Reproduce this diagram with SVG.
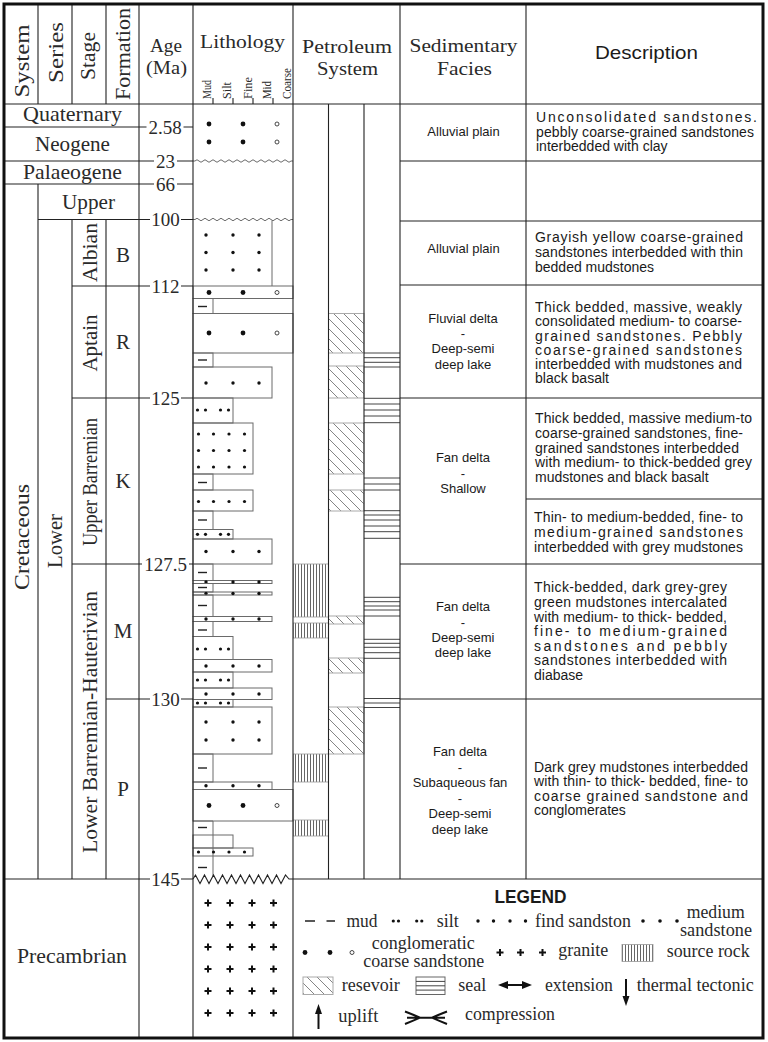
<svg xmlns="http://www.w3.org/2000/svg" width="768" height="1042" viewBox="0 0 768 1042">
<defs>
<style>
.ln{stroke:#222;stroke-width:1.1;fill:none}
.lb{stroke:#6a6a6a;stroke-width:1;fill:none}
.sf{font-family:"Liberation Serif","Times New Roman",serif;fill:#2a2a2a}
.ss{font-family:"Liberation Sans",Arial,sans-serif;fill:#1a1a1a}
.h{font-size:21px}
.h2{font-size:19px}
.sm{font-size:12px}
.age{font-size:19px;text-anchor:middle}
.fac{font-size:13px;text-anchor:middle}
.desc{font-size:14px}
.lg{font-size:18px}
.dot{fill:#111}
.oc{fill:#fff;stroke:#333;stroke-width:0.9}
.md{stroke:#222;stroke-width:1.4}
.gc{stroke:#111;stroke-width:2}
.src{fill:url(#pSrc);stroke:#999;stroke-width:0.8}
.res{fill:url(#pRes);stroke:#aaa;stroke-width:1}
.seal{stroke:#444;stroke-width:1;fill:none}
.ar{fill:#111;stroke:none}
</style>
<pattern id="pSrc" patternUnits="userSpaceOnUse" width="3" height="10"><line x1="1.5" y1="0" x2="1.5" y2="10" stroke="#666" stroke-width="1"/></pattern>
<pattern id="pRes" patternUnits="userSpaceOnUse" width="10" height="10"><path d="M0,0 L10,10 M-2,8 L2,12 M8,-2 L12,2" stroke="#777" stroke-width="0.9"/></pattern>
<g id="dMed" class="dot"><circle cx="206" cy="0" r="1.7"/><circle cx="233" cy="0" r="1.7"/><circle cx="259" cy="0" r="1.7"/></g>
<g id="dFine" class="dot"><circle cx="198.5" cy="0" r="1.6"/><circle cx="213.5" cy="0" r="1.6"/><circle cx="229" cy="0" r="1.6"/><circle cx="244.5" cy="0" r="1.6"/></g>
<g id="dSilt" class="dot"><circle cx="197.5" cy="0" r="1.6"/><circle cx="205.5" cy="0" r="1.6"/><circle cx="220.5" cy="0" r="1.6"/><circle cx="228.5" cy="0" r="1.6"/></g>
<g id="dCoarse"><circle class="dot" cx="209" cy="0" r="2.4"/><circle class="dot" cx="243" cy="0" r="2.4"/><circle class="oc" cx="277" cy="0" r="2"/></g>
<path id="dash" class="md" d="M198,0 H207"/>
<path id="cross" class="gc" d="M-3.5,0 H3.5 M0,-3.5 V3.5"/>
</defs>
<rect x="0" y="0" width="768" height="1042" fill="#fff"/>

<g id="petroleum-system">
  <g id="source-rock">
    <rect class="src" x="293.5" y="564" width="35" height="53"/>
    <rect class="src" x="293.5" y="623" width="35" height="15"/>
    <rect class="src" x="293.5" y="754" width="35" height="28"/>
    <rect class="src" x="293.5" y="820" width="35" height="16"/>
  </g>
  <g id="reservoir">
    <rect class="res" x="328.5" y="313.5" width="35.5" height="39.5"/>
    <rect class="res" x="328.5" y="366" width="35.5" height="32"/>
    <rect class="res" x="328.5" y="423" width="35.5" height="51"/>
    <rect class="res" x="328.5" y="490" width="35.5" height="21"/>
    <rect class="res" x="328.5" y="616" width="35.5" height="8"/>
    <rect class="res" x="328.5" y="658" width="35.5" height="15"/>
    <rect class="res" x="328.5" y="707" width="35.5" height="47"/>
  </g>
  <g id="seal">
    <path class="seal" d="M364,353H400M364,357.7H400M364,362.3H400M364,367H400"/>
    <path class="seal" d="M364,398.3H400M364,404H400M364,410H400M364,416H400M364,422.7H400"/>
    <path class="seal" d="M364,478H400M364,484H400M364,490H400"/>
    <path class="seal" d="M364,510.7H400M364,515H400M364,520H400M364,526H400M364,531.7H400M364,538.3H400"/>
    <path class="seal" d="M364,597.3H400M364,601.7H400M364,606H400M364,610H400M364,616H400"/>
    <path class="seal" d="M364,639.3H400M364,643.3H400M364,647.3H400M364,652.7H400M364,658.3H400"/>
    <path class="seal" d="M364,698.5H400M364,703H400M364,707.5H400"/>
  </g>
</g>

<g id="lithology">
  <use href="#dCoarse" y="124"/><use href="#dCoarse" y="142"/>
  <path class="lb" d="M193,161 H195 q2,-2.5 4,0 t4,0 t4,0 t4,0 t4,0 t4,0 t4,0 t4,0 t4,0 t4,0 t4,0 t4,0 t4,0 t4,0 t4,0 t4,0 t4,0 t4,0 t4,0 t4,0 t4,0 t4,0 t4,0 t4,0 H293" stroke="#444"/>
  <path class="lb" d="M193,219.5 H195 q2,-2.5 4,0 t4,0 t4,0 t4,0 t4,0 t4,0 t4,0 t4,0 t4,0 t4,0 t4,0 t4,0 t4,0 t4,0 t4,0 t4,0 t4,0 t4,0 t4,0 t4,0 t4,0 t4,0 t4,0 t4,0 H293" stroke="#444"/>
  <path class="lb" d="M272,220.5 V286"/>
  <use href="#dMed" y="235"/><use href="#dMed" y="252.5"/><use href="#dMed" y="270"/>
  <rect class="lb" x="193" y="286" width="100" height="12.5"/><use href="#dCoarse" y="292.5"/>
  <rect class="lb" x="193" y="298.5" width="20" height="15"/><use href="#dash" y="306.5"/>
  <rect class="lb" x="193" y="313.5" width="100" height="39.5"/><use href="#dCoarse" y="333"/>
  <rect class="lb" x="193" y="353" width="20" height="14"/><use href="#dash" y="360"/>
  <rect class="lb" x="193" y="367" width="79" height="31"/><use href="#dMed" y="383"/>
  <rect class="lb" x="193" y="398" width="40" height="25"/><use href="#dSilt" y="410"/>
  <rect class="lb" x="193" y="423" width="60" height="51"/><use href="#dFine" y="434"/><use href="#dFine" y="450.5"/><use href="#dFine" y="467"/>
  <rect class="lb" x="193" y="474" width="20" height="16"/><use href="#dash" y="482.5"/>
  <rect class="lb" x="193" y="490" width="60" height="21"/><use href="#dFine" y="501.5"/>
  <rect class="lb" x="193" y="511" width="20" height="18.5"/><use href="#dash" y="520"/>
  <rect class="lb" x="193" y="529.5" width="40" height="9.5"/><use href="#dSilt" y="534.3"/>
  <rect class="lb" x="193" y="539" width="79" height="25"/><use href="#dMed" y="551.5"/>
  <rect class="lb" x="193" y="564" width="20" height="16.5"/><use href="#dash" y="572.5"/>
  <rect class="lb" x="193" y="580.5" width="79" height="3"/><use href="#dMed" y="582"/>
  <rect class="lb" x="193" y="583.5" width="20" height="8.5"/><use href="#dash" y="587.5"/>
  <rect class="lb" x="193" y="592" width="79" height="3"/><use href="#dMed" y="593.5"/>
  <rect class="lb" x="193" y="595" width="20" height="21.5"/><use href="#dash" y="605.5"/>
  <rect class="lb" x="193" y="616.5" width="79" height="5"/><use href="#dMed" y="619"/>
  <rect class="lb" x="193" y="621.5" width="20" height="15"/><use href="#dash" y="630"/>
  <rect class="lb" x="193" y="636.5" width="40" height="23"/><use href="#dSilt" y="649"/>
  <rect class="lb" x="193" y="659.5" width="79" height="12.5"/><use href="#dMed" y="666"/>
  <rect class="lb" x="193" y="672" width="40" height="16"/><use href="#dSilt" y="680"/>
  <rect class="lb" x="193" y="688" width="79" height="11.5"/><use href="#dMed" y="694"/>
  <rect class="lb" x="193" y="699.5" width="40" height="7.5"/><use href="#dSilt" y="703"/>
  <rect class="lb" x="193" y="707" width="79" height="47"/><use href="#dMed" y="722"/><use href="#dMed" y="740"/>
  <rect class="lb" x="193" y="754" width="20" height="28"/><use href="#dash" y="768"/>
  <rect class="lb" x="193" y="782" width="79" height="7.5"/><use href="#dMed" y="785.7"/>
  <rect class="lb" x="193" y="789.5" width="100" height="31.5"/><use href="#dCoarse" y="805.5"/>
  <path class="lb" d="M213,821 V876"/>
  <path class="lb" d="M193,821 H213"/><use href="#dash" y="827.5"/>
  <rect class="lb" x="193" y="835" width="40" height="13"/>
  <rect class="lb" x="193" y="848" width="60" height="8"/><use href="#dFine" y="852"/>
  <use href="#dash" y="867.5"/>
  <g id="granite">
    <use href="#cross" x="208" y="903"/><use href="#cross" x="230" y="903"/><use href="#cross" x="252" y="903"/><use href="#cross" x="273.5" y="903"/>
    <use href="#cross" x="208" y="925"/><use href="#cross" x="230" y="925"/><use href="#cross" x="252" y="925"/><use href="#cross" x="273.5" y="925"/>
    <use href="#cross" x="208" y="947"/><use href="#cross" x="230" y="947"/><use href="#cross" x="252" y="947"/><use href="#cross" x="273.5" y="947"/>
    <use href="#cross" x="208" y="969"/><use href="#cross" x="230" y="969"/><use href="#cross" x="252" y="969"/><use href="#cross" x="273.5" y="969"/>
    <use href="#cross" x="208" y="991"/><use href="#cross" x="230" y="991"/><use href="#cross" x="252" y="991"/><use href="#cross" x="273.5" y="991"/>
    <use href="#cross" x="208" y="1013"/><use href="#cross" x="230" y="1013"/><use href="#cross" x="252" y="1013"/><use href="#cross" x="273.5" y="1013"/>
  </g>
</g>

<g id="grid">
  <path class="ln" d="M38,4V104M38,184V879M72,4V104M72,219.5V879M106,4V104M106,219.5V879M139,4V1038M193,4V1038M293,4V1038M328.5,104V879M364,104V879M400,4V879M526,4V879"/>
  <path class="ln" d="M4,104H763"/>
  <path class="ln" d="M213,98V104M233,98V104M253,98V104M273,98V104"/>
  <path class="ln" d="M4,127H146.5M183.5,127H193"/>
  <path class="ln" d="M4,161H154M177,161H193M400,161H763"/>
  <path class="ln" d="M4,184H154M177,184H193"/>
  <path class="ln" d="M38,219.5H150M181,219.5H193M400,221H763"/>
  <path class="ln" d="M72,286H150M181,286H193M400,285H763"/>
  <path class="ln" d="M72,398H150M181,398H193M400,398H763"/>
  <path class="ln" d="M526,499H763"/>
  <path class="ln" d="M72,564H142M189,564H193M400,564H763"/>
  <path class="ln" d="M106,699H150M181,699H193M400,699H763"/>
  <path class="ln" d="M4,879H150M181,879H193M293,879H763"/>
  <path class="ln" d="M193,879 L195.5,875 L200,883.5 L204.5,875 L209,883.5 L213.5,875 L218,883.5 L222.5,875 L227,883.5 L231.5,875 L236,883.5 L240.5,875 L245,883.5 L249.5,875 L254,883.5 L258.5,875 L263,883.5 L267.5,875 L272,883.5 L276.5,875 L281,883.5 L285.5,875 L289,879 H293"/>
  <rect x="4" y="4" width="759" height="1034" fill="none" stroke="#111" stroke-width="3"/>
</g>

<g id="header">
  <text class="sf h" text-anchor="middle" transform="translate(29,61) rotate(-90)" textLength="73" lengthAdjust="spacingAndGlyphs">System</text>
  <text class="sf h" text-anchor="middle" transform="translate(63,52.5) rotate(-90)" textLength="61" lengthAdjust="spacingAndGlyphs">Series</text>
  <text class="sf h" text-anchor="middle" transform="translate(95,56) rotate(-90)" textLength="48" lengthAdjust="spacingAndGlyphs">Stage</text>
  <text class="sf h" text-anchor="middle" transform="translate(130,54) rotate(-90)" textLength="92" lengthAdjust="spacingAndGlyphs">Formation</text>
  <text class="sf h2" x="166" y="52" text-anchor="middle" textLength="32" lengthAdjust="spacingAndGlyphs">Age</text>
  <text class="sf h2" x="166.5" y="74" text-anchor="middle" textLength="41" lengthAdjust="spacingAndGlyphs">(Ma)</text>
  <text class="sf h2" x="242.5" y="48" text-anchor="middle" textLength="85" lengthAdjust="spacingAndGlyphs">Lithology</text>
  <text class="sf sm" transform="translate(211,99) rotate(-90)" textLength="19" lengthAdjust="spacingAndGlyphs">Mud</text>
  <text class="sf sm" transform="translate(231,99) rotate(-90)" textLength="17" lengthAdjust="spacingAndGlyphs">Silt</text>
  <text class="sf sm" transform="translate(251.5,99) rotate(-90)" textLength="22" lengthAdjust="spacingAndGlyphs">Fine</text>
  <text class="sf sm" transform="translate(271,99) rotate(-90)" textLength="18" lengthAdjust="spacingAndGlyphs">Mid</text>
  <text class="sf sm" transform="translate(291,99) rotate(-90)" textLength="31" lengthAdjust="spacingAndGlyphs">Coarse</text>
  <text class="sf h2" x="347" y="53" text-anchor="middle" textLength="90" lengthAdjust="spacingAndGlyphs">Petroleum</text>
  <text class="sf h2" x="347.5" y="75" text-anchor="middle" textLength="61" lengthAdjust="spacingAndGlyphs">System</text>
  <text class="sf h2" x="463.5" y="52" text-anchor="middle" textLength="108" lengthAdjust="spacingAndGlyphs">Sedimentary</text>
  <text class="sf h2" x="464.5" y="75" text-anchor="middle" textLength="55" lengthAdjust="spacingAndGlyphs">Facies</text>
  <text class="ss" x="646.5" y="59" font-size="19" text-anchor="middle" textLength="103" lengthAdjust="spacingAndGlyphs">Description</text>
</g>

<g id="units">
  <text class="sf h" x="72.5" y="121" text-anchor="middle" textLength="99" lengthAdjust="spacingAndGlyphs">Quaternary</text>
  <text class="sf h" x="72.5" y="151" text-anchor="middle" textLength="75" lengthAdjust="spacingAndGlyphs">Neogene</text>
  <text class="sf h" x="72.5" y="179" text-anchor="middle" textLength="99" lengthAdjust="spacingAndGlyphs">Palaeogene</text>
  <text class="sf h" x="88.5" y="209" text-anchor="middle" textLength="53" lengthAdjust="spacingAndGlyphs">Upper</text>
  <text class="sf h" text-anchor="middle" transform="translate(29,537) rotate(-90)" textLength="106" lengthAdjust="spacingAndGlyphs">Cretaceous</text>
  <text class="sf h" text-anchor="middle" transform="translate(62,541) rotate(-90)" textLength="54" lengthAdjust="spacingAndGlyphs">Lower</text>
  <text class="sf h" text-anchor="middle" transform="translate(96.5,252.5) rotate(-90)" textLength="59" lengthAdjust="spacingAndGlyphs">Albian</text>
  <text class="sf h" text-anchor="middle" transform="translate(96.5,343) rotate(-90)" textLength="57" lengthAdjust="spacingAndGlyphs">Aptain</text>
  <text class="sf h" text-anchor="middle" transform="translate(96.5,482) rotate(-90)" textLength="128" lengthAdjust="spacingAndGlyphs">Upper Barremian</text>
  <text class="sf h" text-anchor="middle" transform="translate(96.5,722) rotate(-90)" textLength="262" lengthAdjust="spacingAndGlyphs">Lower Barremian-Hauterivian</text>
  <text class="sf h" x="123" y="262" text-anchor="middle">B</text>
  <text class="sf h" x="123" y="349" text-anchor="middle">R</text>
  <text class="sf h" x="123" y="488" text-anchor="middle">K</text>
  <text class="sf h" x="123" y="638" text-anchor="middle">M</text>
  <text class="sf h" x="123" y="796" text-anchor="middle">P</text>
  <text class="sf h" x="72" y="963" text-anchor="middle" textLength="110" lengthAdjust="spacingAndGlyphs">Precambrian</text>
</g>

<g id="ages" class="sf">
  <text class="age" x="165" y="133.5">2.58</text>
  <text class="age" x="165.5" y="167.5">23</text>
  <text class="age" x="165.5" y="190.5">66</text>
  <text class="age" x="165.5" y="226">100</text>
  <text class="age" x="165.5" y="292.5">112</text>
  <text class="age" x="165.5" y="404.5">125</text>
  <text class="age" x="165.5" y="570.5">127.5</text>
  <text class="age" x="165.5" y="705.5">130</text>
  <text class="age" x="165.5" y="885.5">145</text>
</g>

<g id="facies" class="ss fac">
  <text x="463.5" y="135.5">Alluvial plain</text>
  <text x="463.5" y="252.5">Alluvial plain</text>
  <text x="463" y="323">Fluvial delta</text>
  <text x="463" y="338">-</text>
  <text x="463" y="353">Deep-semi</text>
  <text x="463" y="368.5">deep lake</text>
  <text x="463" y="462">Fan delta</text>
  <text x="463" y="477.5">-</text>
  <text x="463" y="492.5">Shallow</text>
  <text x="463" y="610.5">Fan delta</text>
  <text x="463" y="626.5">-</text>
  <text x="463" y="641.5">Deep-semi</text>
  <text x="463" y="657">deep lake</text>
  <text x="460" y="755.5">Fan delta</text>
  <text x="460" y="771.5">-</text>
  <text x="460" y="787">Subaqueous fan</text>
  <text x="460" y="803">-</text>
  <text x="460" y="818">Deep-semi</text>
  <text x="460" y="834">deep lake</text>
</g>

<g id="description" class="ss desc">
  <text x="536" y="121.5" textLength="221" lengthAdjust="spacing">Unconsolidated sandstones.</text>
  <text x="536" y="136.5" textLength="218" lengthAdjust="spacing">pebbly coarse-grained sandstones</text>
  <text x="536" y="151">interbedded with clay</text>
  <text x="535" y="242" textLength="208" lengthAdjust="spacing">Grayish yellow coarse-grained</text>
  <text x="535" y="257" textLength="208" lengthAdjust="spacing">sandstones interbedded with thin</text>
  <text x="535" y="271.5">bedded mudstones</text>
  <text x="535" y="311.5" textLength="207" lengthAdjust="spacing">Thick bedded, massive, weakly</text>
  <text x="535" y="326" textLength="207" lengthAdjust="spacing">consolidated medium- to coarse-</text>
  <text x="535" y="340.5" textLength="207" lengthAdjust="spacing">grained sandstones. Pebbly</text>
  <text x="535" y="355" textLength="207" lengthAdjust="spacing">coarse-grained sandstones</text>
  <text x="535" y="369" textLength="207" lengthAdjust="spacing">interbedded with mudstones and</text>
  <text x="535" y="383">black basalt</text>
  <text x="535" y="423" textLength="217" lengthAdjust="spacing">Thick bedded, massive medium-to</text>
  <text x="535" y="438" textLength="208" lengthAdjust="spacing">coarse-grained sandstones, fine-</text>
  <text x="535" y="452.5" textLength="204" lengthAdjust="spacing">grained sandstones interbedded</text>
  <text x="535" y="467" textLength="217" lengthAdjust="spacing">with medium- to thick-bedded grey</text>
  <text x="535" y="481.5">mudstones and black basalt</text>
  <text x="534" y="522" textLength="209" lengthAdjust="spacing">Thin- to medium-bedded, fine- to</text>
  <text x="534" y="536.5" textLength="209" lengthAdjust="spacing">medium-grained sandstones</text>
  <text x="534" y="551.5" textLength="209" lengthAdjust="spacing">interbedded with grey mudstones</text>
  <text x="534" y="592" textLength="193" lengthAdjust="spacing">Thick-bedded, dark grey-grey</text>
  <text x="534" y="606.5" textLength="193" lengthAdjust="spacing">green mudstones intercalated</text>
  <text x="534" y="621.5" textLength="193" lengthAdjust="spacing">with medium- to thick- bedded,</text>
  <text x="534" y="636" textLength="193" lengthAdjust="spacing">fine- to medium-grained</text>
  <text x="534" y="650.5" textLength="193" lengthAdjust="spacing">sandstones and pebbly</text>
  <text x="534" y="665" textLength="193" lengthAdjust="spacing">sandstones interbedded with</text>
  <text x="534" y="680">diabase</text>
  <text x="534" y="771.5" textLength="214" lengthAdjust="spacing">Dark grey mudstones interbedded</text>
  <text x="534" y="786" textLength="214" lengthAdjust="spacing">with thin- to thick- bedded, fine- to</text>
  <text x="534" y="800.5" textLength="214" lengthAdjust="spacing">coarse grained sandstone and</text>
  <text x="534" y="815">conglomerates</text>
</g>

<g id="legend">
  <text class="ss" x="530.5" y="903" font-size="18" font-weight="bold" text-anchor="middle" textLength="72" lengthAdjust="spacingAndGlyphs">LEGEND</text>
  <path class="md" d="M305,921H315M326.5,921H335"/>
  <text class="sf lg" x="346.5" y="926.5" textLength="31" lengthAdjust="spacingAndGlyphs">mud</text>
  <g class="dot"><circle cx="393.3" cy="921" r="1.6"/><circle cx="398.5" cy="921" r="1.6"/><circle cx="416.7" cy="921" r="1.6"/><circle cx="421.8" cy="921" r="1.6"/></g>
  <text class="sf lg" x="436.7" y="926.5" textLength="22" lengthAdjust="spacingAndGlyphs">silt</text>
  <g class="dot"><circle cx="478" cy="921" r="1.7"/><circle cx="493.5" cy="921" r="1.7"/><circle cx="510" cy="921" r="1.7"/><circle cx="525.5" cy="921" r="1.7"/></g>
  <text class="sf lg" x="535" y="926.5" textLength="96" lengthAdjust="spacingAndGlyphs">find sandston</text>
  <g class="dot"><circle cx="643" cy="921" r="1.8"/><circle cx="660" cy="921" r="1.8"/><circle cx="677" cy="921" r="1.8"/></g>
  <text class="sf lg" x="686.7" y="918" textLength="58" lengthAdjust="spacingAndGlyphs">medium</text>
  <text class="sf lg" x="680" y="936" textLength="72" lengthAdjust="spacingAndGlyphs">sandstone</text>
  <circle class="dot" cx="305" cy="952.5" r="2.4"/><circle class="dot" cx="330" cy="952.5" r="2.4"/><circle class="oc" cx="352" cy="952.5" r="2"/>
  <text class="sf lg" x="371.7" y="949" textLength="103" lengthAdjust="spacingAndGlyphs">conglomeratic</text>
  <text class="sf lg" x="363.3" y="967" textLength="121" lengthAdjust="spacingAndGlyphs">coarse sandstone</text>
  <use href="#cross" x="500" y="952.5"/><use href="#cross" x="520.5" y="952.5"/><use href="#cross" x="542.5" y="952.5"/>
  <text class="sf lg" x="558.3" y="956" textLength="50" lengthAdjust="spacingAndGlyphs">granite</text>
  <rect class="src" x="622" y="944.5" width="31" height="17"/>
  <text class="sf lg" x="666.7" y="957" textLength="83" lengthAdjust="spacingAndGlyphs">source rock</text>
  <rect class="res" x="303" y="977" width="30" height="17.5" stroke="#888"/>
  <text class="sf lg" x="341.7" y="991" textLength="58" lengthAdjust="spacingAndGlyphs">resevoir</text>
  <rect x="416" y="977" width="29" height="17.5" fill="none" stroke="#666" stroke-width="1"/>
  <path class="seal" d="M416,981.4H445M416,985.8H445M416,990.1H445" stroke="#888"/>
  <text class="sf lg" x="458.3" y="991" textLength="28" lengthAdjust="spacingAndGlyphs">seal</text>
  <path d="M505,985H525" stroke="#111" stroke-width="2"/>
  <path class="ar" d="M498,985L508,981L508,989Z M532,985L522,981L522,989Z"/>
  <text class="sf lg" x="545" y="991" textLength="68" lengthAdjust="spacingAndGlyphs">extension</text>
  <path d="M626,979V998" stroke="#111" stroke-width="2"/>
  <path class="ar" d="M626,1006L622.5,996L629.5,996Z"/>
  <text class="sf lg" x="636.7" y="991" textLength="117" lengthAdjust="spacingAndGlyphs">thermal tectonic</text>
  <path d="M318.5,1012V1029" stroke="#111" stroke-width="2"/>
  <path class="ar" d="M318.5,1004L315,1014L322,1014Z"/>
  <text class="sf lg" x="338.3" y="1022" textLength="40" lengthAdjust="spacingAndGlyphs">uplift</text>
  <path d="M407,1017.7H445 M405,1011.5 Q414,1015 420,1017.7 Q414,1020.5 405,1024 M447,1011.5 Q438,1015 432,1017.7 Q438,1020.5 447,1024" fill="none" stroke="#111" stroke-width="2"/>
  <text class="sf lg" x="465" y="1020" textLength="90" lengthAdjust="spacingAndGlyphs">compression</text>
</g>
</svg>
